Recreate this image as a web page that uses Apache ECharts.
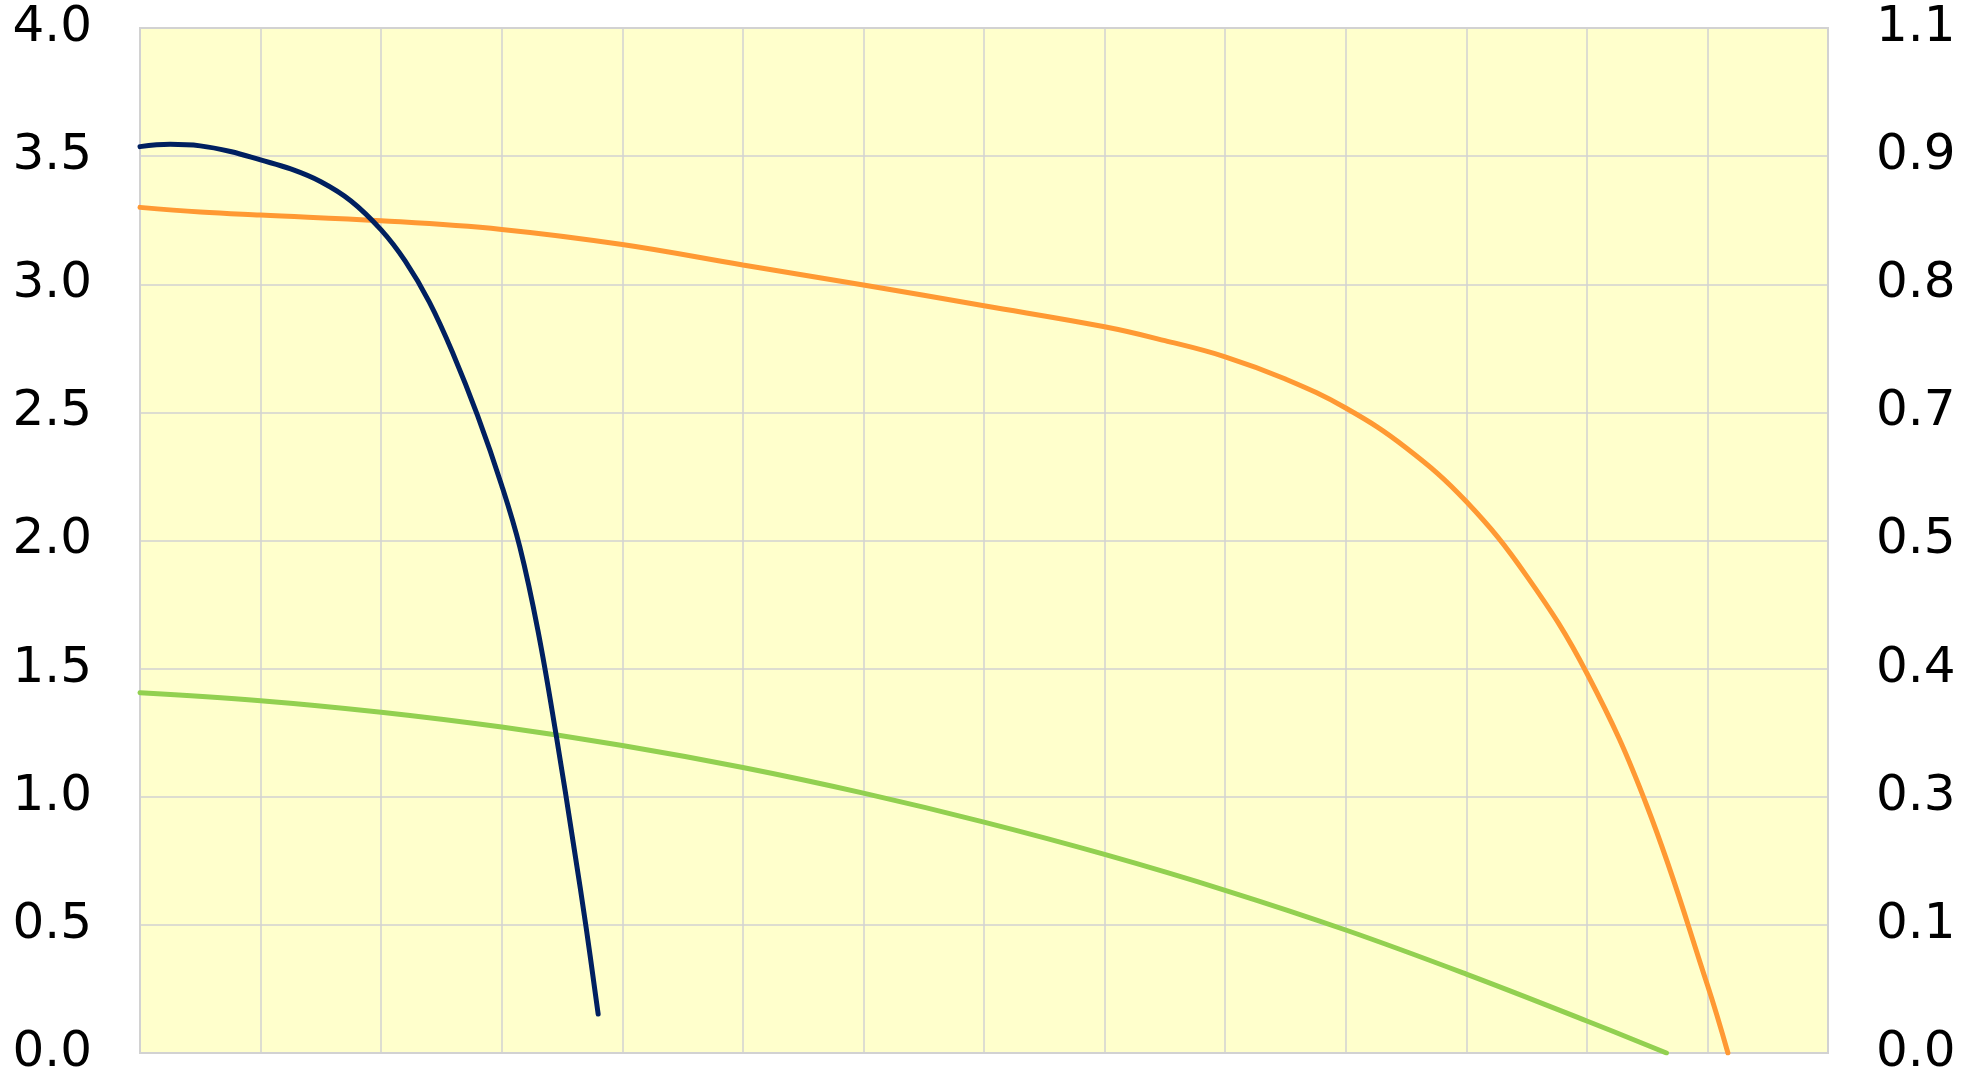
<!DOCTYPE html>
<html>
<head>
<meta charset="utf-8">
<style>
  html, body { margin: 0; padding: 0; background: #ffffff; }
  #chart { width: 1978px; height: 1076px; }
</style>
<script src="https://cdn.jsdelivr.net/npm/echarts@6/dist/echarts.min.js"></script>
</head>
<body>
<div id="chart"></div>
<script>
// Blue curve (left axis)
const blueX = [0, 0.25, 0.5, 0.75, 1, 1.25, 1.5, 1.75, 2, 2.2, 2.4, 2.6, 2.8, 3, 3.15, 3.3, 3.45, 3.6, 3.7, 3.8];
const blueY = [3.537, 3.546, 3.54, 3.518, 3.485, 3.45, 3.40, 3.325, 3.212, 3.09, 2.93, 2.725, 2.487, 2.215, 1.975, 1.65, 1.245, 0.8, 0.49, 0.152];

// Orange curve (left axis)
const orangeX = [0, 0.5, 1, 2, 3, 4, 5, 6, 7, 8, 8.5, 9, 9.5, 10, 10.5, 11, 11.5, 12, 12.5, 13, 13.17];
const orangeY = [3.30, 3.282, 3.27, 3.248, 3.214, 3.155, 3.075, 2.997, 2.916, 2.834, 2.78, 2.717, 2.63, 2.517, 2.362, 2.152, 1.862, 1.482, 0.962, 0.265, 0.0];

// Green curve (left axis)
const greenX = [0, 1, 2, 3, 4, 5, 6, 7, 8, 9, 10, 11, 12, 12.66];
const greenY = [1.406, 1.375, 1.33, 1.272, 1.20, 1.114, 1.014, 0.901, 0.775, 0.635, 0.48, 0.308, 0.125, 0.0];

// Axis settings
const xMin = 0, xMax = 14, xStep = 1;
const leftMin = 0, leftMax = 4, leftStep = 0.5;
const rightMin = 0, rightMax = 1.08, rightStep = 0.135;

const zip = (xs, ys) => xs.map((x, i) => [x, ys[i]]);

const chart = echarts.init(document.getElementById('chart'), null, { renderer: 'canvas' });

const labelStyle = {
  color: '#000000',
  fontFamily: 'DejaVu Sans',
  fontSize: 50,
  formatter: v => Number(v).toFixed(1)
};

const gridColor = '#d2d2d2';

chart.setOption({
  animation: false,
  backgroundColor: '#ffffff',
  grid: {
    left: 140, right: 150, top: 28, bottom: 23,
    outerBoundsMode: 'none',
    containLabel: false,
    show: true,
    backgroundColor: '#FFFFCC',
    borderColor: gridColor,
    borderWidth: 2
  },
  xAxis: {
    type: 'value',
    min: xMin, max: xMax, interval: xStep,
    axisLabel: { show: false },
    axisLine: { show: false },
    axisTick: { show: false },
    splitLine: { show: true, lineStyle: { color: gridColor, width: 1.5 } }
  },
  yAxis: [
    {
      type: 'value',
      position: 'left',
      min: leftMin, max: leftMax, interval: leftStep,
      axisLine: { show: false },
      axisTick: { show: false },
      axisLabel: Object.assign({ margin: 48 }, labelStyle),
      splitLine: { show: true, lineStyle: { color: gridColor, width: 1.5 } }
    },
    {
      type: 'value',
      position: 'right',
      min: rightMin, max: rightMax, interval: rightStep,
      axisLine: { show: false },
      axisTick: { show: false },
      axisLabel: Object.assign({ margin: 48 }, labelStyle),
      splitLine: { show: false }
    }
  ],
  series: [
    {
      type: 'line', yAxisIndex: 0,
      data: zip(greenX, greenY),
      smooth: 0.4,
      showSymbol: false,
      lineStyle: { color: '#92D050', width: 5, cap: 'round' }
    },
    {
      type: 'line', yAxisIndex: 0,
      data: zip(orangeX, orangeY),
      smooth: 0.4,
      showSymbol: false,
      lineStyle: { color: '#FF9933', width: 5, cap: 'round' }
    },
    {
      type: 'line', yAxisIndex: 0,
      data: zip(blueX, blueY),
      smooth: 0.4,
      showSymbol: false,
      lineStyle: { color: '#002060', width: 5, cap: 'round' }
    }
  ]
});
</script>
</body>
</html>
